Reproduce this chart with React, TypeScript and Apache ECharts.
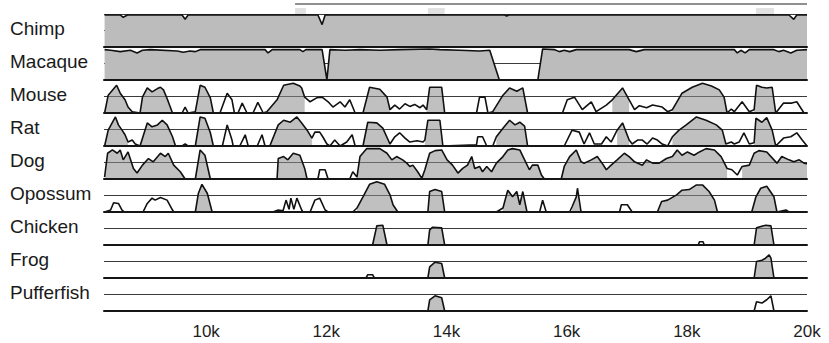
import React, { useEffect, useRef } from "react";
import * as echarts from "echarts";

// Positions in kb, conservation in percent (50–100 per track)
const SPECIES = ["Chimp", "Macaque", "Mouse", "Rat", "Dog", "Opossum", "Chicken", "Frog", "Pufferfish"];

const CHIMP = [[8.31,98.5],[8.57,98.5],[8.62,95],[8.69,98.5],[9.60,98.5],[9.65,92],[9.70,98.5],[11.86,98.5],[11.93,84],[11.98,98.5],[14.97,98.5],[15.00,97],[15.04,98.5],[19.70,98.5],[19.78,92],[19.83,98.5],[20,98.5]];

const MACAQUE = [[8.31,96],[8.41,95],[8.57,93],[8.74,95],[8.85,91],[8.94,95],[9.07,96],[9.52,94],[9.62,92],[9.73,94],[9.82,93],[9.90,96],[10.98,96],[11.03,91],[11.10,96],[11.56,96],[11.61,93],[11.66,96],[11.93,96],[12.01,50],[12.06,96],[12.31,95],[12.56,96],[12.89,95],[13.22,96],[13.72,97],[13.89,96],[14.22,95],[14.55,94],[14.72,95],[14.88,50],[15.52,50],[15.60,97],[15.80,96],[15.88,93],[15.96,95],[16.05,93],[16.16,96],[17.04,96],[17.16,93],[17.29,96],[18.79,96],[18.84,91],[18.90,95],[18.97,91],[19.04,96],[19.45,96],[19.53,93],[19.61,95],[19.73,91],[19.83,95],[20,96]];

const MOUSE = [[8.31,50],[8.37,77],[8.51,92],[8.57,80],[8.65,70],[8.70,59],[8.77,52],[8.90,50],[8.94,74],[9.02,88],[9.10,82],[9.19,87],[9.24,89],[9.29,85],[9.35,72],[9.44,50],[9.60,50],[9.65,59],[9.70,50],[9.82,52],[9.90,92],[9.98,89],[10.07,73],[10.12,50],[10.23,50],[10.35,80],[10.43,70],[10.47,50],[10.53,50],[10.60,65],[10.68,50],[10.78,50],[10.86,66],[10.95,50],[11.01,52],[11.18,70],[11.29,92],[11.45,95],[11.56,91],[11.59,88],[11.64,74],[11.73,67],[11.84,73],[11.93,74],[12.03,67],[12.11,59],[12.23,67],[12.31,59],[12.39,70],[12.48,50],[12.61,50],[12.72,89],[12.89,86],[13.01,74],[13.06,55],[13.14,62],[13.22,56],[13.31,64],[13.39,60],[13.47,63],[13.56,58],[13.61,62],[13.67,55],[13.72,89],[13.92,89],[13.97,50],[14.50,50],[14.55,74],[14.64,74],[14.69,50],[14.77,52],[14.94,77],[15.05,88],[15.17,83],[15.27,88],[15.35,50],[15.93,50],[16.01,70],[16.13,74],[16.26,55],[16.41,67],[16.49,52],[16.66,62],[16.76,70],[16.93,88],[17.04,70],[17.13,55],[17.21,61],[17.33,58],[17.43,62],[17.59,59],[17.68,52],[17.76,55],[17.92,80],[18.09,89],[18.26,95],[18.41,91],[18.54,85],[18.62,74],[18.67,50],[18.74,56],[18.79,52],[18.92,67],[19.04,52],[19.12,55],[19.16,92],[19.25,89],[19.33,88],[19.42,89],[19.48,50],[19.61,65],[19.75,65],[19.83,67],[19.95,50],[20,50]];

const RAT = [[8.31,50],[8.37,74],[8.49,94],[8.54,82],[8.60,74],[8.65,67],[8.70,56],[8.77,59],[8.82,53],[8.90,50],[9.02,85],[9.10,79],[9.19,82],[9.27,89],[9.35,82],[9.44,64],[9.49,50],[9.60,50],[9.65,53],[9.70,50],[9.82,50],[9.90,94],[9.98,92],[10.07,70],[10.12,50],[10.27,50],[10.35,82],[10.43,59],[10.45,50],[10.56,50],[10.65,67],[10.70,50],[10.85,50],[10.93,67],[10.98,50],[11.06,50],[11.20,82],[11.29,89],[11.40,86],[11.51,94],[11.59,85],[11.68,74],[11.76,62],[11.81,71],[11.89,71],[11.94,64],[12.01,53],[12.06,50],[12.14,59],[12.23,50],[12.34,56],[12.43,67],[12.48,50],[12.61,50],[12.69,86],[12.84,85],[12.94,77],[13.06,53],[13.14,64],[13.22,70],[13.31,62],[13.39,56],[13.51,58],[13.61,56],[13.64,59],[13.69,89],[13.89,89],[13.94,50],[14.50,52],[14.52,64],[14.60,64],[14.67,50],[14.77,50],[14.83,64],[14.94,77],[15.05,89],[15.14,82],[15.22,86],[15.30,80],[15.35,50],[15.96,50],[16.09,74],[16.21,71],[16.29,53],[16.38,70],[16.46,53],[16.58,53],[16.66,64],[16.74,56],[16.84,74],[16.93,85],[17.04,59],[17.09,53],[17.18,59],[17.26,59],[17.34,53],[17.43,62],[17.51,59],[17.59,53],[17.68,50],[17.76,64],[17.87,74],[17.99,82],[18.16,94],[18.32,89],[18.49,82],[18.59,74],[18.65,53],[18.74,56],[18.79,53],[18.87,56],[18.95,70],[19.04,53],[19.12,55],[19.15,92],[19.25,86],[19.33,93],[19.42,74],[19.48,50],[19.61,62],[19.73,64],[19.83,70],[19.92,59],[20,50]];

const DOG = [[8.31,53],[8.36,89],[8.44,94],[8.52,89],[8.57,94],[8.62,79],[8.70,91],[8.79,66],[8.85,59],[8.94,71],[9.04,81],[9.12,76],[9.24,89],[9.32,84],[9.37,89],[9.46,71],[9.57,61],[9.65,50],[9.82,50],[9.90,94],[9.98,86],[10.07,50],[11.18,50],[11.20,81],[11.29,84],[11.36,79],[11.45,89],[11.56,86],[11.64,66],[11.68,50],[11.86,50],[11.89,64],[11.98,64],[12.03,50],[12.39,50],[12.44,61],[12.51,53],[12.56,84],[12.67,96],[12.89,96],[13.01,89],[13.09,79],[13.17,84],[13.27,79],[13.34,74],[13.39,69],[13.44,71],[13.52,61],[13.59,51],[13.64,64],[13.72,89],[13.81,93],[13.92,94],[14.01,79],[14.10,71],[14.19,59],[14.27,66],[14.35,71],[14.42,84],[14.47,66],[14.55,69],[14.60,61],[14.67,69],[14.75,61],[14.83,74],[14.94,84],[15.02,94],[15.10,96],[15.22,94],[15.30,79],[15.38,64],[15.43,71],[15.52,71],[15.58,56],[15.63,50],[15.91,50],[15.96,69],[16.05,84],[16.16,94],[16.24,76],[16.29,74],[16.41,79],[16.51,84],[16.59,74],[16.66,64],[16.74,71],[16.84,79],[16.96,89],[17.04,84],[17.13,76],[17.26,71],[17.33,79],[17.43,74],[17.54,74],[17.66,81],[17.76,84],[17.84,94],[17.92,86],[18.01,91],[18.12,86],[18.21,91],[18.32,96],[18.46,94],[18.57,84],[18.67,66],[18.75,64],[18.84,56],[18.92,69],[19.04,71],[19.12,89],[19.20,93],[19.33,91],[19.45,79],[19.50,74],[19.58,84],[19.70,79],[19.78,76],[19.87,79],[19.95,74],[20,73]];

const OPOSSUM = [[8.31,50],[8.41,53],[8.46,64],[8.54,63],[8.60,53],[8.64,50],[8.95,50],[9.02,63],[9.10,71],[9.15,68],[9.24,72],[9.35,68],[9.44,53],[9.46,50],[9.82,50],[9.87,78],[9.93,92],[10.02,78],[10.10,50],[11.11,50],[11.20,53],[11.28,52],[11.33,68],[11.38,54],[11.41,71],[11.46,54],[11.51,71],[11.59,53],[11.61,50],[11.73,50],[11.81,68],[11.89,71],[11.98,53],[12.03,50],[12.44,50],[12.51,56],[12.61,73],[12.72,92],[12.84,96],[12.97,92],[13.06,76],[13.11,61],[13.19,50],[13.69,50],[13.72,81],[13.81,84],[13.92,81],[13.97,50],[14.83,50],[14.94,56],[15.02,83],[15.10,73],[15.17,81],[15.22,61],[15.27,81],[15.34,50],[15.55,50],[15.60,68],[15.66,50],[16.05,50],[16.09,58],[16.16,73],[16.18,86],[16.24,50],[16.88,50],[16.91,61],[17.01,61],[17.09,50],[17.51,50],[17.58,66],[17.68,68],[17.83,76],[17.92,83],[18.04,84],[18.16,91],[18.26,91],[18.37,81],[18.46,68],[18.51,50],[19.08,50],[19.15,73],[19.23,86],[19.33,89],[19.45,73],[19.50,50],[19.65,53],[19.70,50],[20,50]];

const CHICKEN = [[8.31,50],[12.77,50],[12.84,79],[12.94,80],[13.01,50],[13.69,50],[13.72,73],[13.77,77],[13.92,76],[13.97,50],[18.19,50],[18.21,55],[18.27,55],[18.29,50],[19.12,50],[19.16,76],[19.31,80],[19.40,79],[19.45,50],[20,50]];

const FROG = [[8.31,50],[12.66,50],[12.69,55],[12.77,55],[12.80,50],[13.69,50],[13.72,67],[13.81,74],[13.92,72],[13.97,50],[19.12,50],[19.16,75],[19.25,77],[19.31,80],[19.37,85],[19.40,80],[19.45,50],[20,50]];

const PUFFERFISH = [[8.31,50],[13.69,50],[13.72,67],[13.81,73],[13.92,70],[13.97,50],[19.12,50],[19.16,64],[19.25,62],[19.33,67],[19.40,73],[19.45,50],[20,50]];

// Conserved (shaded) stretches per track, kb
const CHIMP_FILL = [[8.31, 20]];
const MACAQUE_FILL = [[8.31, 20]];
const MOUSE_FILL = [[8.31,8.77],[8.90,9.44],[9.82,10.12],[11.01,11.64],[12.61,13.06],[13.67,13.97],[14.77,15.35],[16.76,17.04],[17.76,18.67],[19.12,19.48]];
const RAT_FILL = [[8.31,8.70],[8.90,9.49],[9.82,10.12],[11.06,11.76],[12.61,13.06],[13.64,13.94],[14.83,15.35],[16.84,17.04],[17.76,18.65],[19.12,19.48]];
const DOG_FILL = [[8.31,9.65],[9.82,10.07],[11.18,11.68],[12.51,13.59],[13.64,15.63],[15.91,18.67],[18.92,20]];
const OPOSSUM_FILL = [[9.82,10.10],[12.51,13.19],[13.69,13.97],[14.94,15.34],[16.09,16.24],[17.51,18.51],[19.08,19.50]];
const CHICKEN_FILL = [[12.77,13.01],[13.69,13.97],[19.12,19.45]];
const FROG_FILL = [[13.69,13.97],[19.12,19.45]];
const PUFFERFISH_FILL = [[13.69,13.97]];

// Gene annotation above the tracks
const GENE_SPAN = [11.48, 20];
const EXONS = [[11.48, 11.66], [13.69, 13.97], [19.15, 19.45]];

const X_MIN = 8.3;
const X_MAX = 20;
const X_TICKS = [10, 12, 14, 16, 18, 20];

const CURVES = [CHIMP, MACAQUE, MOUSE, RAT, DOG, OPOSSUM, CHICKEN, FROG, PUFFERFISH];
const FILLS = [CHIMP_FILL, MACAQUE_FILL, MOUSE_FILL, RAT_FILL, DOG_FILL, OPOSSUM_FILL, CHICKEN_FILL, FROG_FILL, PUFFERFISH_FILL];

const FONT = "'Liberation Sans', Arial, Helvetica, sans-serif";

export default function App() {
  const ref = useRef<HTMLDivElement>(null);
  useEffect(() => {
    if (!ref.current) return;
    const chart = echarts.init(ref.current, null, { renderer: "svg" });
    const TOP = 14;
    const H = 33;
    const LEFT = 104;
    const RIGHT = 22;
    const grids: any[] = [];
    const xAxes: any[] = [];
    const yAxes: any[] = [];
    const series: any[] = [];
    const titles: any[] = [];

    SPECIES.forEach((name, i) => {
      const last = i === SPECIES.length - 1;
      const opaque = i < 2;
      grids.push({ left: LEFT, right: RIGHT, top: TOP + H * i, height: H });
      titles.push({
        text: name,
        left: 10,
        top: TOP + H * i + 5,
        padding: 0,
        textStyle: { fontSize: 19, fontWeight: "normal", fontFamily: FONT, color: "#1a1a1a" },
      });
      xAxes.push({
        type: "value",
        gridIndex: i,
        min: X_MIN,
        max: X_MAX,
        z: 5,
        axisLine: { show: true, onZero: false, lineStyle: { color: "#151515", width: 2 } },
        axisTick: { show: false },
        splitLine: { show: false },
        axisLabel: last
          ? {
              show: true,
              margin: 12,
              fontSize: 17,
              fontFamily: FONT,
              color: "#1e1e1e",
              showMinLabel: false,
              formatter: (v: number) => (X_TICKS.some((t) => Math.abs(t - v) < 1e-6) ? `${Math.round(v)}k` : ""),
            }
          : { show: false },
      });
      yAxes.push({
        type: "value",
        gridIndex: i,
        min: 50,
        max: 100,
        interval: 25,
        axisLine: { show: false },
        axisTick: { show: false },
        axisLabel: { show: false },
        splitLine: { show: true, lineStyle: { color: "#3a3a3a", width: 1 } },
      });
      const curve = CURVES[i];
      const fills = FILLS[i];
      const inFill = (x: number) => fills.some(([a, b]) => x >= a - 1e-9 && x <= b + 1e-9);
      series.push({
        type: "line",
        xAxisIndex: i,
        yAxisIndex: i,
        data: curve.map(([x, y]) => (inFill(x) ? [x, y] : [x, "-"])),
        showSymbol: false,
        silent: true,
        connectNulls: false,
        lineStyle: { width: 0 },
        areaStyle: { color: opaque ? "#bcbcbc" : "rgba(140,140,140,0.55)", opacity: 1, origin: "start" },
        z: 2,
      });
      series.push({
        type: "line",
        xAxisIndex: i,
        yAxisIndex: i,
        data: curve,
        showSymbol: false,
        silent: true,
        lineStyle: { color: "#111", width: 1.6 },
        z: 3,
      });
    });

    // annotation strip on top
    const ai = SPECIES.length;
    grids.push({ left: LEFT, right: RIGHT, top: 0, height: TOP });
    xAxes.push({ type: "value", gridIndex: ai, min: X_MIN, max: X_MAX, show: false });
    yAxes.push({ type: "value", gridIndex: ai, min: 0, max: 14, show: false });
    series.push({
      type: "line",
      xAxisIndex: ai,
      yAxisIndex: ai,
      data: GENE_SPAN.map((x) => [x, 10]),
      showSymbol: false,
      silent: true,
      lineStyle: { color: "#222", width: 1.2 },
      markArea: {
        silent: true,
        itemStyle: { color: "rgba(160,160,160,0.3)" },
        data: EXONS.map(([a, b]) => [{ xAxis: a, yAxis: 0 }, { xAxis: b, yAxis: 6 }]),
      },
    });

    chart.setOption({
      animation: false,
      backgroundColor: "#ffffff",
      title: titles,
      grid: grids,
      xAxis: xAxes,
      yAxis: yAxes,
      series,
    });
    return () => chart.dispose();
  }, []);

  return (
    <div style={{ position: "fixed", left: 0, top: 0, width: 829, height: 343, background: "#fff" }}>
      <div ref={ref} style={{ width: 829, height: 343 }} />
    </div>
  );
}
